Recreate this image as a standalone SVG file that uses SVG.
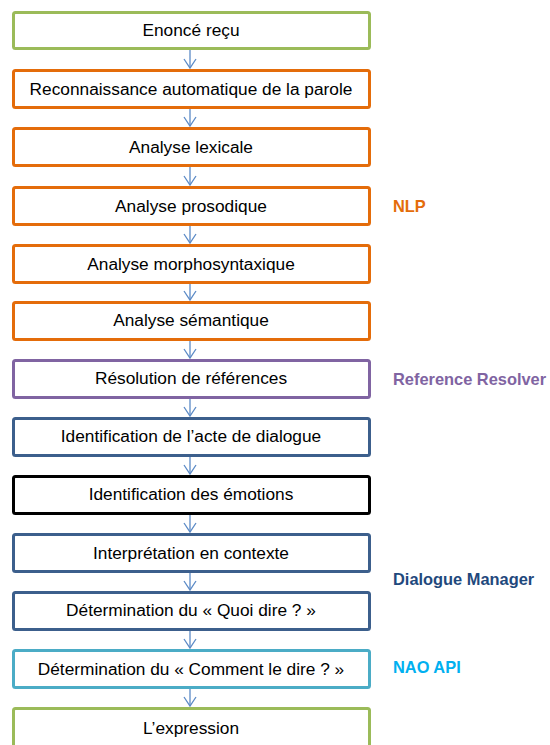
<svg xmlns="http://www.w3.org/2000/svg" width="550" height="745" viewBox="0 0 550 745">
<style>
.box{fill:#ffffff;stroke-width:3;}
.t{font-family:"Liberation Sans",Arial,sans-serif;font-size:17.3px;fill:#000000;text-anchor:middle;}
.lbl{font-family:"Liberation Sans",Arial,sans-serif;font-size:16.4px;font-weight:bold;}
.green{stroke:#9bbb59;}
.orange{stroke:#e46c0a;}
.purple{stroke:#8064a2;}
.navy{stroke:#3c5f8c;}
.black{stroke:#000000;}
.cyan{stroke:#4bacc6;}
.arr{stroke:#5b8ac6;stroke-width:1.3;fill:none;}
</style>
<defs>
<marker id="ah" markerWidth="14" markerHeight="14" refX="10" refY="7" orient="auto" markerUnits="userSpaceOnUse">
<path d="M1,1 L10,7 L1,13" fill="none" stroke="#5b8ac6" stroke-width="1.3"/>
</marker>
</defs>
<rect width="550" height="745" fill="#ffffff"/>
<g id="connectors">
<line class="arr" x1="190" y1="50" x2="190" y2="68" marker-end="url(#ah)"/>
<line class="arr" x1="190" y1="108" x2="190" y2="126" marker-end="url(#ah)"/>
<line class="arr" x1="190" y1="166" x2="190" y2="185" marker-end="url(#ah)"/>
<line class="arr" x1="190" y1="225" x2="190" y2="243" marker-end="url(#ah)"/>
<line class="arr" x1="190" y1="283" x2="190" y2="300" marker-end="url(#ah)"/>
<line class="arr" x1="190" y1="340" x2="190" y2="358" marker-end="url(#ah)"/>
<line class="arr" x1="190" y1="398" x2="190" y2="416" marker-end="url(#ah)"/>
<line class="arr" x1="190" y1="456" x2="190" y2="474" marker-end="url(#ah)"/>
<line class="arr" x1="190" y1="514" x2="190" y2="532" marker-end="url(#ah)"/>
<line class="arr" x1="190" y1="572" x2="190" y2="590" marker-end="url(#ah)"/>
<line class="arr" x1="190" y1="630" x2="190" y2="648" marker-end="url(#ah)"/>
<line class="arr" x1="190" y1="688" x2="190" y2="706" marker-end="url(#ah)"/>
</g>
<g id="n1"><rect class="box green" x="13.5" y="12.5" width="356" height="36" rx="2"/><text class="t" x="191" y="36">Enoncé reçu</text></g>
<g id="n2"><rect class="box orange" x="13.5" y="70.5" width="356" height="37" rx="2"/><text class="t" x="191" y="95">Reconnaissance automatique de la parole</text></g>
<g id="n3"><rect class="box orange" x="13.5" y="128.5" width="356" height="37" rx="2"/><text class="t" x="191" y="153">Analyse lexicale</text></g>
<g id="n4"><rect class="box orange" x="13.5" y="187.5" width="356" height="37" rx="2"/><text class="t" x="191" y="212">Analyse prosodique</text></g>
<g id="n5"><rect class="box orange" x="13.5" y="245.5" width="356" height="37" rx="2"/><text class="t" x="191" y="270">Analyse morphosyntaxique</text></g>
<g id="n6"><rect class="box orange" x="13.5" y="302.5" width="356" height="37" rx="2"/><text class="t" x="191" y="326">Analyse sémantique</text></g>
<g id="n7"><rect class="box purple" x="13.5" y="360.5" width="356" height="37" rx="2"/><text class="t" x="191" y="384">Résolution de références</text></g>
<g id="n8"><rect class="box navy" x="13.5" y="418.5" width="356" height="37" rx="2"/><text class="t" x="191" y="442">Identification de l’acte de dialogue</text></g>
<g id="n9"><rect class="box black" x="13.5" y="476.5" width="356" height="37" rx="2"/><text class="t" x="191" y="500">Identification des émotions</text></g>
<g id="n10"><rect class="box navy" x="13.5" y="534.5" width="356" height="37" rx="2"/><text class="t" x="191" y="559">Interprétation en contexte</text></g>
<g id="n11"><rect class="box navy" x="13.5" y="592.5" width="356" height="37" rx="2"/><text class="t" x="191" y="616">Détermination du « Quoi dire ? »</text></g>
<g id="n12"><rect class="box cyan" x="13.5" y="650.5" width="356" height="37" rx="2"/><text class="t" x="191" y="675">Détermination du « Comment le dire ? »</text></g>
<g id="n13"><rect class="box green" x="13.5" y="708.5" width="356" height="40" rx="2"/><text class="t" x="191" y="734">L’expression</text></g>
<g id="labels">
<text class="lbl" x="393" y="212" fill="#e46c0a">NLP</text>
<text class="lbl" x="393" y="385" fill="#8064a2">Reference Resolver</text>
<text class="lbl" x="393" y="585" fill="#1f497d">Dialogue Manager</text>
<text class="lbl" x="393" y="673" fill="#00b0f0">NAO API</text>
</g>
</svg>
